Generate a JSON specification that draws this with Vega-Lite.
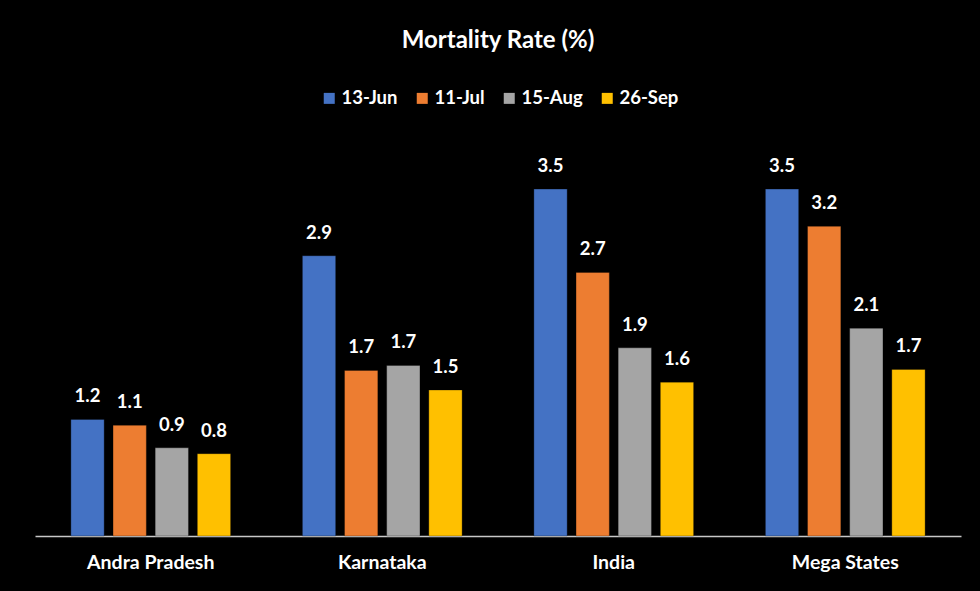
{
  "$schema": "https://vega.github.io/schema/vega-lite/v6.json",
  "width": 926,
  "height": 392,
  "autosize": {"type": "none"},
  "padding": {"left": 35, "top": 144, "right": 19, "bottom": 55},
  "background": "#000000",
  "title": {"text": "Mortality Rate (%)", "color": "#ffffff", "font": "Lato", "fontSize": 24, "fontWeight": "bold", "anchor": "middle", "frame": "group", "baseline": "alphabetic", "offset": 17},
  "data": {"values": [
    {"state": "Andra Pradesh", "date": "13-Jun", "value": 1.19},
    {"state": "Andra Pradesh", "date": "11-Jul", "value": 1.13},
    {"state": "Andra Pradesh", "date": "15-Aug", "value": 0.9},
    {"state": "Andra Pradesh", "date": "26-Sep", "value": 0.84},
    {"state": "Karnataka", "date": "13-Jun", "value": 2.86},
    {"state": "Karnataka", "date": "11-Jul", "value": 1.69},
    {"state": "Karnataka", "date": "15-Aug", "value": 1.74},
    {"state": "Karnataka", "date": "26-Sep", "value": 1.49},
    {"state": "India", "date": "13-Jun", "value": 3.54},
    {"state": "India", "date": "11-Jul", "value": 2.69},
    {"state": "India", "date": "15-Aug", "value": 1.92},
    {"state": "India", "date": "26-Sep", "value": 1.57},
    {"state": "Mega States", "date": "13-Jun", "value": 3.54},
    {"state": "Mega States", "date": "11-Jul", "value": 3.16},
    {"state": "Mega States", "date": "15-Aug", "value": 2.12},
    {"state": "Mega States", "date": "26-Sep", "value": 1.7}
  ]},
  "encoding": {
    "x": {"field": "state", "type": "nominal", "sort": ["Andra Pradesh", "Karnataka", "India", "Mega States"],
      "scale": {"paddingInner": 0.31, "paddingOuter": 0.155},
      "axis": {"title": null, "labelAngle": 0, "labelColor": "#ffffff", "labelFont": "Lato", "labelFontWeight": "bold", "labelFontSize": 19.5, "labelPadding": 17, "ticks": false, "domainColor": "#c8c8c8", "domainWidth": 1.5, "grid": false}},
    "xOffset": {"field": "date", "type": "nominal", "sort": ["13-Jun", "11-Jul", "15-Aug", "26-Sep"], "scale": {"paddingInner": 0.21, "paddingOuter": 0}},
    "y": {"field": "value", "type": "quantitative", "scale": {"domain": [0, 4]}, "axis": null}
  },
  "layer": [
    {"mark": {"type": "bar", "stroke": "#000000", "strokeOpacity": 0.3, "strokeWidth": 1},
      "encoding": {"color": {"field": "date", "type": "nominal", "sort": ["13-Jun", "11-Jul", "15-Aug", "26-Sep"],
        "scale": {"domain": ["13-Jun", "11-Jul", "15-Aug", "26-Sep"], "range": ["#4472C4", "#ED7D31", "#A5A5A5", "#FFC000"]},
        "legend": {"title": null, "orient": "none", "legendX": 285, "legendY": -55, "direction": "horizontal", "padding": 0, "labelColor": "#ffffff", "labelFont": "Lato", "labelFontWeight": "bold", "labelFontSize": 18.5, "labelOffset": 3, "columnPadding": 15, "symbolType": "square", "symbolSize": 121, "symbolStrokeWidth": 0}}}},
    {"mark": {"type": "text", "dy": -17, "baseline": "alphabetic", "color": "#ffffff", "font": "Lato", "fontWeight": "bold", "fontSize": 18.5},
      "encoding": {"text": {"field": "value", "type": "quantitative", "format": ".1f"}}}
  ],
  "config": {"view": {"stroke": null}}
}
